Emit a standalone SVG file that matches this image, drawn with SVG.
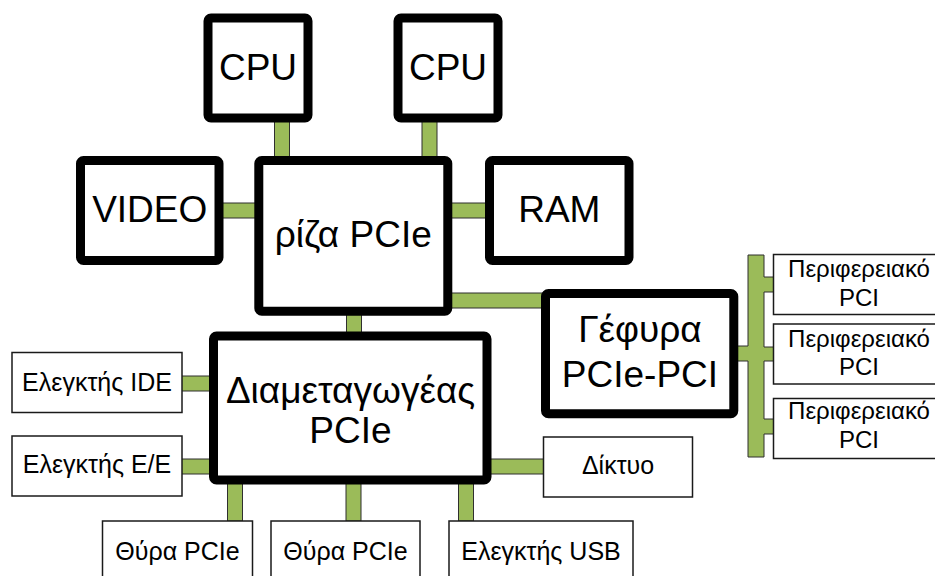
<svg xmlns="http://www.w3.org/2000/svg" width="935" height="576" viewBox="0 0 935 576">
  <style>
    .bus { fill: #9bbb59; stroke: #2f2f2f; stroke-width: 1; }
    .major rect { fill: #ffffff; stroke: #000000; stroke-width: 9; }
    .minor rect { fill: #ffffff; stroke: #1a1a1a; stroke-width: 1.5; }
    text { font-family: "Liberation Sans", Arial, sans-serif; fill: #000000; text-anchor: middle; }
    .major text { font-size: 37px; }
    .minor text { font-size: 25px; }
    .periph text { font-size: 24px; }
  </style>
  <rect width="935" height="576" fill="#ffffff"/>

  <!-- links between components (drawn first so box borders cover the ends) -->
  <g id="connectors">
    <rect class="bus" x="274.5" y="118" width="15" height="42"/>
    <rect class="bus" x="422" y="118" width="15" height="42"/>
    <rect class="bus" x="218" y="203" width="40" height="15"/>
    <rect class="bus" x="448" y="203" width="42" height="15"/>
    <rect class="bus" x="448" y="293" width="97" height="15"/>
    <rect class="bus" x="346.5" y="311" width="15" height="25"/>
    <rect class="bus" x="178" y="376" width="35" height="15"/>
    <rect class="bus" x="178" y="459" width="35" height="15"/>
    <rect class="bus" x="487" y="459" width="57" height="15"/>
    <rect class="bus" x="227.5" y="480" width="15" height="41"/>
    <rect class="bus" x="346" y="480" width="15" height="41"/>
    <rect class="bus" x="458.5" y="480" width="15" height="41"/>
    <!-- PCI bus behind the bridge -->
    <path class="bus" d="M748,255 H764 V277 H773.5 V292 H764 V347 H773.5 V361 H764 V419 H773.5 V434 H764 V457 H748 V361 H734 V346 H748 Z"/>
  </g>

  <g id="cpu1" class="major">
    <rect x="208" y="18" width="100" height="100" rx="3"/>
    <text x="258" y="79.5">CPU</text>
  </g>
  <g id="cpu2" class="major">
    <rect x="398" y="18" width="100" height="100" rx="3"/>
    <text x="448" y="79.5">CPU</text>
  </g>
  <g id="video" class="major">
    <rect x="80.5" y="160.5" width="138.5" height="100" rx="3"/>
    <text x="149.7" y="221.7">VIDEO</text>
  </g>
  <g id="root-complex" class="major">
    <rect x="258.8" y="160.5" width="189" height="150.7" rx="3"/>
    <text x="353.3" y="246.7">ρίζα PCIe</text>
  </g>
  <g id="ram" class="major">
    <rect x="489.5" y="160.5" width="139.5" height="100" rx="3"/>
    <text x="559.3" y="221.7">RAM</text>
  </g>
  <g id="bridge" class="major">
    <rect x="545.5" y="293.5" width="188.3" height="120.3" rx="3"/>
    <text x="640" y="341.7">Γέφυρα</text>
    <text x="640" y="387.3">PCIe-PCI</text>
  </g>
  <g id="switch" class="major">
    <rect x="213.5" y="336" width="273.5" height="144" rx="3"/>
    <text x="350.5" y="403.3">Διαμεταγωγέας</text>
    <text x="350.5" y="443.3">PCIe</text>
  </g>

  <g id="ide" class="minor">
    <rect x="12" y="352.5" width="170" height="60"/>
    <text x="97" y="390.7">Ελεγκτής IDE</text>
  </g>
  <g id="io" class="minor">
    <rect x="12" y="436" width="170" height="60"/>
    <text x="97" y="473.3">Ελεγκτής E/E</text>
  </g>
  <g id="network" class="minor">
    <rect x="543.5" y="437" width="149" height="60"/>
    <text x="618" y="474">Δίκτυο</text>
  </g>
  <g id="slot1" class="minor">
    <rect x="102.5" y="521" width="150" height="70"/>
    <text x="177.5" y="560">Θύρα PCIe</text>
  </g>
  <g id="slot2" class="minor">
    <rect x="271" y="521" width="149" height="70"/>
    <text x="345.5" y="560">Θύρα PCIe</text>
  </g>
  <g id="usb" class="minor">
    <rect x="449" y="521" width="184" height="70"/>
    <text x="541" y="560">Ελεγκτής USB</text>
  </g>

  <g id="pci1" class="minor periph">
    <rect x="773.5" y="254.5" width="175" height="60"/>
    <text x="859" y="276.7">Περιφερειακό</text>
    <text x="859" y="306">PCI</text>
  </g>
  <g id="pci2" class="minor periph">
    <rect x="773.5" y="324" width="175" height="60"/>
    <text x="859" y="346.7">Περιφερειακό</text>
    <text x="859" y="375">PCI</text>
  </g>
  <g id="pci3" class="minor periph">
    <rect x="773.5" y="398.5" width="175" height="60"/>
    <text x="859" y="419.3">Περιφερειακό</text>
    <text x="859" y="448.3">PCI</text>
  </g>
</svg>
